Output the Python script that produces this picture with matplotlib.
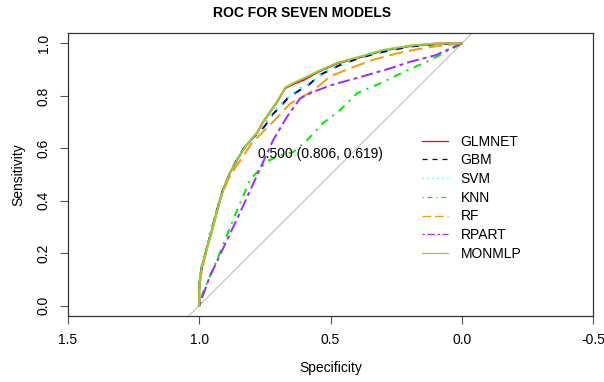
import matplotlib
matplotlib.use("Agg")
import matplotlib.pyplot as plt
from matplotlib.lines import Line2D

plt.rcParams['font.family'] = ['Liberation Sans', 'DejaVu Sans']

## ROC curves: (specificity, sensitivity)
glmnet_spec = [1.0, 1.0, 0.99, 0.97, 0.948, 0.929, 0.91, 0.883, 0.856, 0.826, 0.78, 0.757, 0.704, 0.673, 0.643, 0.60, 0.551, 0.475, 0.388, 0.30, 0.197, 0.094, 0.0]
glmnet_sens = [0.0, 0.08, 0.148, 0.224, 0.30, 0.376, 0.441, 0.506, 0.555, 0.605, 0.658, 0.70, 0.776, 0.829, 0.845, 0.862, 0.89, 0.924, 0.947, 0.973, 0.99, 1.0, 1.0]

gbm_spec = [1.0, 1.0, 0.99, 0.97, 0.95, 0.93, 0.91, 0.885, 0.86, 0.83, 0.79, 0.75, 0.72, 0.69, 0.66, 0.62, 0.58, 0.54, 0.47, 0.39, 0.30, 0.20, 0.10, 0.0]
gbm_sens = [0.0, 0.09, 0.15, 0.22, 0.30, 0.37, 0.44, 0.50, 0.55, 0.60, 0.645, 0.685, 0.73, 0.76, 0.795, 0.82, 0.845, 0.88, 0.915, 0.945, 0.968, 0.988, 0.997, 1.0]

svm_spec = [1.0, 1.0, 0.99, 0.972, 0.952, 0.93, 0.908, 0.884, 0.858, 0.83, 0.79, 0.752, 0.72, 0.688, 0.655, 0.615, 0.575, 0.535, 0.47, 0.39, 0.30, 0.20, 0.10, 0.0]
svm_sens = [0.0, 0.10, 0.16, 0.23, 0.31, 0.38, 0.445, 0.505, 0.556, 0.603, 0.65, 0.69, 0.735, 0.77, 0.80, 0.83, 0.85, 0.885, 0.918, 0.947, 0.97, 0.99, 0.998, 1.0]

knn_spec = [1.0, 0.986, 0.932, 0.871, 0.807, 0.742, 0.70, 0.643, 0.59, 0.529, 0.464, 0.399, 0.31, 0.209, 0.147, 0.094, 0.018, 0.0]
knn_sens = [0.0, 0.05, 0.175, 0.327, 0.479, 0.55, 0.57, 0.585, 0.63, 0.696, 0.745, 0.81, 0.848, 0.897, 0.924, 0.95, 0.99, 1.0]

rf_spec = [1.0, 1.0, 0.99, 0.975, 0.955, 0.935, 0.915, 0.89, 0.86, 0.837, 0.80, 0.76, 0.73, 0.70, 0.654, 0.61, 0.567, 0.53, 0.50, 0.45, 0.40, 0.33, 0.247, 0.17, 0.094, 0.0]
rf_sens = [0.0, 0.07, 0.13, 0.20, 0.28, 0.35, 0.42, 0.48, 0.53, 0.563, 0.62, 0.66, 0.69, 0.72, 0.77, 0.795, 0.82, 0.85, 0.875, 0.895, 0.915, 0.94, 0.962, 0.978, 0.99, 1.0]

rpart_spec = [1.0, 0.96, 0.845, 0.719, 0.666, 0.616, 0.567, 0.50, 0.376, 0.273, 0.197, 0.10, 0.045, 0.0]
rpart_sens = [0.0, 0.11, 0.354, 0.63, 0.72, 0.79, 0.815, 0.84, 0.875, 0.905, 0.93, 0.955, 0.98, 1.0]

monmlp_spec = [1.0, 1.0, 0.99, 0.968, 0.946, 0.927, 0.908, 0.882, 0.855, 0.824, 0.778, 0.755, 0.702, 0.672, 0.64, 0.60, 0.55, 0.475, 0.388, 0.30, 0.197, 0.094, 0.0]
monmlp_sens = [0.0, 0.085, 0.15, 0.226, 0.302, 0.378, 0.443, 0.508, 0.557, 0.607, 0.66, 0.703, 0.778, 0.832, 0.85, 0.868, 0.893, 0.926, 0.95, 0.975, 0.992, 1.0, 1.0]

model_names = ['GLMNET', 'GBM', 'SVM', 'KNN', 'RF', 'RPART', 'MONMLP']
model_colors = ['red', 'navy', 'cyan', '#00EE00', '#F39C12', '#9B30FF', '#9ACD32']
# R lty patterns: 1 solid, 2 "44", 3 "13", 4 "1343", 5 "73", 6 "2262"
model_dashes = [None, (4, 4), (1, 3), (1, 3, 4, 3), (7, 3), (2, 2, 6, 2), None]
curves = [(glmnet_spec, glmnet_sens), (gbm_spec, gbm_sens), (svm_spec, svm_sens),
          (knn_spec, knn_sens), (rf_spec, rf_sens), (rpart_spec, rpart_sens),
          (monmlp_spec, monmlp_sens)]

thres_label = '0.500 (0.806, 0.619)'
thres_point = (0.806, 0.619)

fig = plt.figure(figsize=(6.04, 3.82), dpi=100)
ax = fig.add_axes([68/604, 1-316/382, (593-68)/604, (316-33)/382])

# chance diagonal
ax.axline((1, 0), (0, 1), color='#BEBEBE', lw=0.8, zorder=1)

handles = []
for (sp, se), name, col, dsh in zip(curves, model_names, model_colors, model_dashes):
    ls = '-' if dsh is None else (0, dsh)
    ax.plot(sp, se, color=col, lw=1.44, linestyle=ls, zorder=2)
    handles.append(Line2D([], [], color=col, lw=0.9, linestyle=ls))

ax.text(thres_point[0] - 0.03, thres_point[1] - 0.04, thres_label, fontsize=10, ha='left', va='center')

ax.set_xlim(1.5, -0.5)
ax.set_ylim(-0.04, 1.04)
ax.set_xticks([1.5, 1.0, 0.5, 0.0, -0.5])
ax.set_xticklabels(['1.5', '1.0', '0.5', '0.0', '-0.5'])
ax.set_yticks([0.0, 0.2, 0.4, 0.6, 0.8, 1.0])
ax.set_yticklabels(['0.0', '0.2', '0.4', '0.6', '0.8', '1.0'], rotation=90, va='center')
ax.tick_params(axis='both', length=5.5, width=0.8, color='#555555', labelsize=10, pad=7)
for s in ax.spines.values():
    s.set_color('#333333')
    s.set_linewidth(0.9)

ax.set_xlabel('Specificity', fontsize=10, labelpad=10)
ax.set_ylabel('Sensitivity', fontsize=10, labelpad=8)
fig.text(0.5, 1 - 13/382, 'ROC FOR SEVEN MODELS', fontsize=10, fontweight='bold', ha='center', va='center')

ax.legend(handles, model_names, loc='upper left', bbox_to_anchor=((416-68)/525, (316-129)/283),
          frameon=False, fontsize=10, handlelength=1.9, handletextpad=0.9, labelspacing=0.34,
          borderaxespad=0)

fig.savefig('out.png', dpi=100)
